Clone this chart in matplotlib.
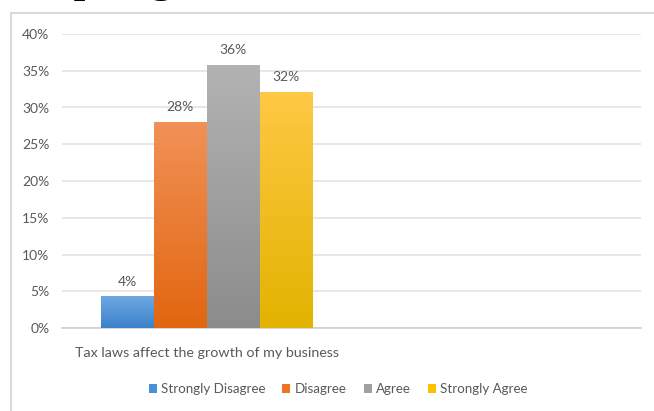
import matplotlib
matplotlib.use("Agg")
import matplotlib.pyplot as plt
import numpy as np
from matplotlib.colors import LinearSegmentedColormap
from matplotlib.patches import Patch
from matplotlib.lines import Line2D

categories = ["Tax laws affect the growth of my business", ""]
series_names = ["Strongly Disagree", "Disagree", "Agree", "Strongly Agree"]
values = [0.043, 0.28, 0.358, 0.321]
labels = ["4%", "28%", "36%", "32%"]
y_ticks = [0, 0.05, 0.10, 0.15, 0.20, 0.25, 0.30, 0.35, 0.40]
y_tick_labels = ["0%", "5%", "10%", "15%", "20%", "25%", "30%", "35%", "40%"]
top_colors = ["#6fa8e2", "#f19158", "#b3b3b3", "#ffc845"]
bottom_colors = ["#3b82ca", "#e2660f", "#8c8c8c", "#e2b300"]
legend_colors = ["#4a90d9", "#ec7424", "#a0a0a0", "#ffc000"]

plt.rcParams['font.family'] = ['Lato', 'DejaVu Sans']
txt = "#595959"
fs = 10

fig = plt.figure(figsize=(6.54, 4.11), dpi=100)
W, H = 654, 411

# outer chart border
fig.add_artist(Line2D([11 / W, 11 / W], [0, 1 - 13 / H], color="#d9d9d9", lw=1.5, transform=fig.transFigure))
fig.add_artist(Line2D([11 / W, 1], [1 - 13 / H, 1 - 13 / H], color="#d9d9d9", lw=1.5, transform=fig.transFigure))

# partially visible page text above the chart (only descenders show)
renderer = fig.canvas.get_renderer()
probe = fig.text(0, 0, "Sam", family="Liberation Serif", fontsize=35)
w_pre = probe.get_window_extent(renderer).width
probe.remove()
fig.text((74 - w_pre) / W, 1 + 9.5 / H, "Sampling", family="Liberation Serif", fontsize=35,
         color="black", ha="left", va="baseline")

ax = fig.add_axes([62 / W, 1 - 328 / H, (641 - 62) / W, (328 - 34) / H])
ax.set_xlim(-0.5, 1.5)
ax.set_ylim(0, 0.40)

bw = 0.183
offsets = (np.arange(len(values)) - 1.5) * bw
for i, (v, off) in enumerate(zip(values, offsets)):
    b = ax.bar(0 + off, v, width=bw, color=legend_colors[i], zorder=2, linewidth=0)[0]
    cmap = LinearSegmentedColormap.from_list("g%d" % i, [bottom_colors[i], top_colors[i]])
    grad = np.linspace(0, 1, 256).reshape(-1, 1)
    im = ax.imshow(grad, cmap=cmap, aspect="auto", origin="lower",
                   extent=[b.get_x(), b.get_x() + b.get_width(), 0, v], zorder=3)
    im.set_clip_path(b)
    ax.text(0 + off, v + 0.012, labels[i], ha="center", va="bottom", fontsize=fs, color=txt)

ax.set_xlim(-0.5, 1.5)
ax.set_ylim(0, 0.40)
ax.set_yticks(y_ticks)
ax.set_yticklabels(y_tick_labels, fontsize=fs, color=txt)
ax.set_xticks([0, 1])
ax.set_xticklabels(categories, fontsize=10.3, color=txt)
ax.tick_params(axis="both", length=0)
ax.tick_params(axis="y", pad=9)
ax.tick_params(axis="x", pad=14)
ax.grid(axis="y", color="#e3e3e3", lw=1.2, zorder=0)
for s in ["top", "right", "left"]:
    ax.spines[s].set_visible(False)
ax.spines["bottom"].set_color("#d0d0d0")
ax.spines["bottom"].set_linewidth(1.2)

handles = [Patch(facecolor=c, edgecolor="none") for c in legend_colors]
fig.legend(handles, series_names, loc="center", bbox_to_anchor=(338 / W, 1 - 389 / H),
           ncol=4, frameon=False, fontsize=9.6, labelcolor=txt,
           handlelength=0.6, handleheight=0.6, handletextpad=0.3, columnspacing=1.3)

fig.savefig("out.png", dpi=100)
